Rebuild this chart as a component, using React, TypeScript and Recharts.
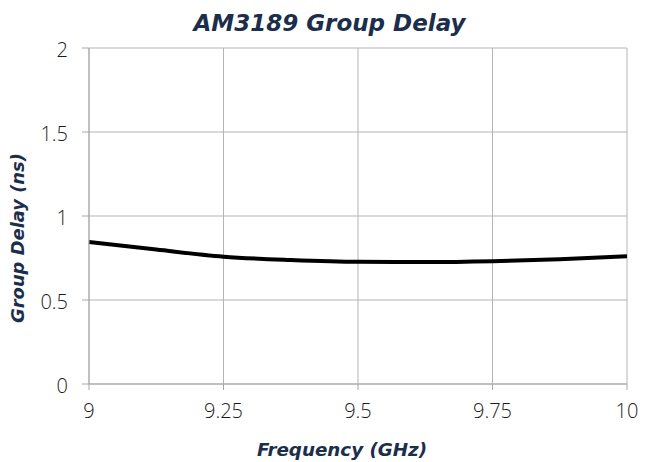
import React from "react";
import { LineChart, Line, XAxis, YAxis, CartesianGrid, Label } from "recharts";

const frequencies = [9, 9.125, 9.25, 9.375, 9.5, 9.625, 9.75, 9.875, 10];
const groupDelay = [0.845, 0.8, 0.758, 0.738, 0.727, 0.726, 0.731, 0.743, 0.76];
const xTicks = [9, 9.25, 9.5, 9.75, 10];
const yTicks = [0, 0.5, 1, 1.5, 2];

const data = frequencies.map((f, i) => ({ f, d: groupDelay[i] }));

const labelColor = "#1b2e4b";
const titleFont = "'DejaVu Sans', 'Open Sans', sans-serif";
const tickFont = "'Open Sans', 'DejaVu Sans', sans-serif";

const XTick = (props: any) => {
  const { x, y, payload } = props;
  return (
    <text x={x} y={y} dy={14.2} textAnchor="middle" fontFamily={tickFont} fontWeight={300} fontSize={20} fill="#1a1a1a">
      {payload.value}
    </text>
  );
};

const YTick = (props: any) => {
  const { x, y, payload } = props;
  return (
    <text x={x} y={y} dy={9.3} textAnchor="end" fontFamily={tickFont} fontWeight={300} fontSize={20} fill="#1a1a1a">
      {payload.value}
    </text>
  );
};

export default function App() {
  return (
    <div style={{ position: "absolute", left: 0, top: 0, width: 648, height: 462, background: "#fff" }}>
      <LineChart width={648} height={462} data={data} margin={{ top: 48, right: 21, left: 0, bottom: 0 }}>
        <CartesianGrid stroke="#b4b4b4" strokeWidth={1} />
        <XAxis
          dataKey="f"
          type="number"
          domain={[9, 10]}
          ticks={xTicks}
          interval={0}
          height={78}
          stroke="#a6a6a6"
          tickSize={6}
          tickMargin={14}
          tick={<XTick />}
        >
          <Label
            content={() => (
              <g>
                <text
                  x={342}
                  y={455.5}
                  textAnchor="middle"
                  fontFamily={titleFont}
                  fontWeight={700}
                  fontStyle="italic"
                  fontSize={18.3}
                  fill={labelColor}
                >
                  Frequency (GHz)
                </text>
                <text
                  x={329.5}
                  y={30.7}
                  textAnchor="middle"
                  fontFamily={titleFont}
                  fontWeight={700}
                  fontStyle="italic"
                  fontSize={23}
                  fill={labelColor}
                >
                  AM3189 Group Delay
                </text>
              </g>
            )}
          />
        </XAxis>
        <YAxis
          type="number"
          domain={[0, 2]}
          ticks={yTicks}
          interval={0}
          width={89}
          stroke="#a6a6a6"
          tickSize={7}
          tickMargin={14}
          tick={<YTick />}
        >
          <Label
            content={() => (
              <text
                x={24}
                y={238}
                transform="rotate(-90 24 238)"
                textAnchor="middle"
                fontFamily={titleFont}
                fontWeight={700}
                fontStyle="italic"
                fontSize={17.9}
                fill={labelColor}
              >
                Group Delay (ns)
              </text>
            )}
          />
        </YAxis>
        <Line
          type="monotone"
          dataKey="d"
          stroke="#000"
          strokeWidth={4}
          dot={false}
          isAnimationActive={false}
        />
      </LineChart>
    </div>
  );
}
